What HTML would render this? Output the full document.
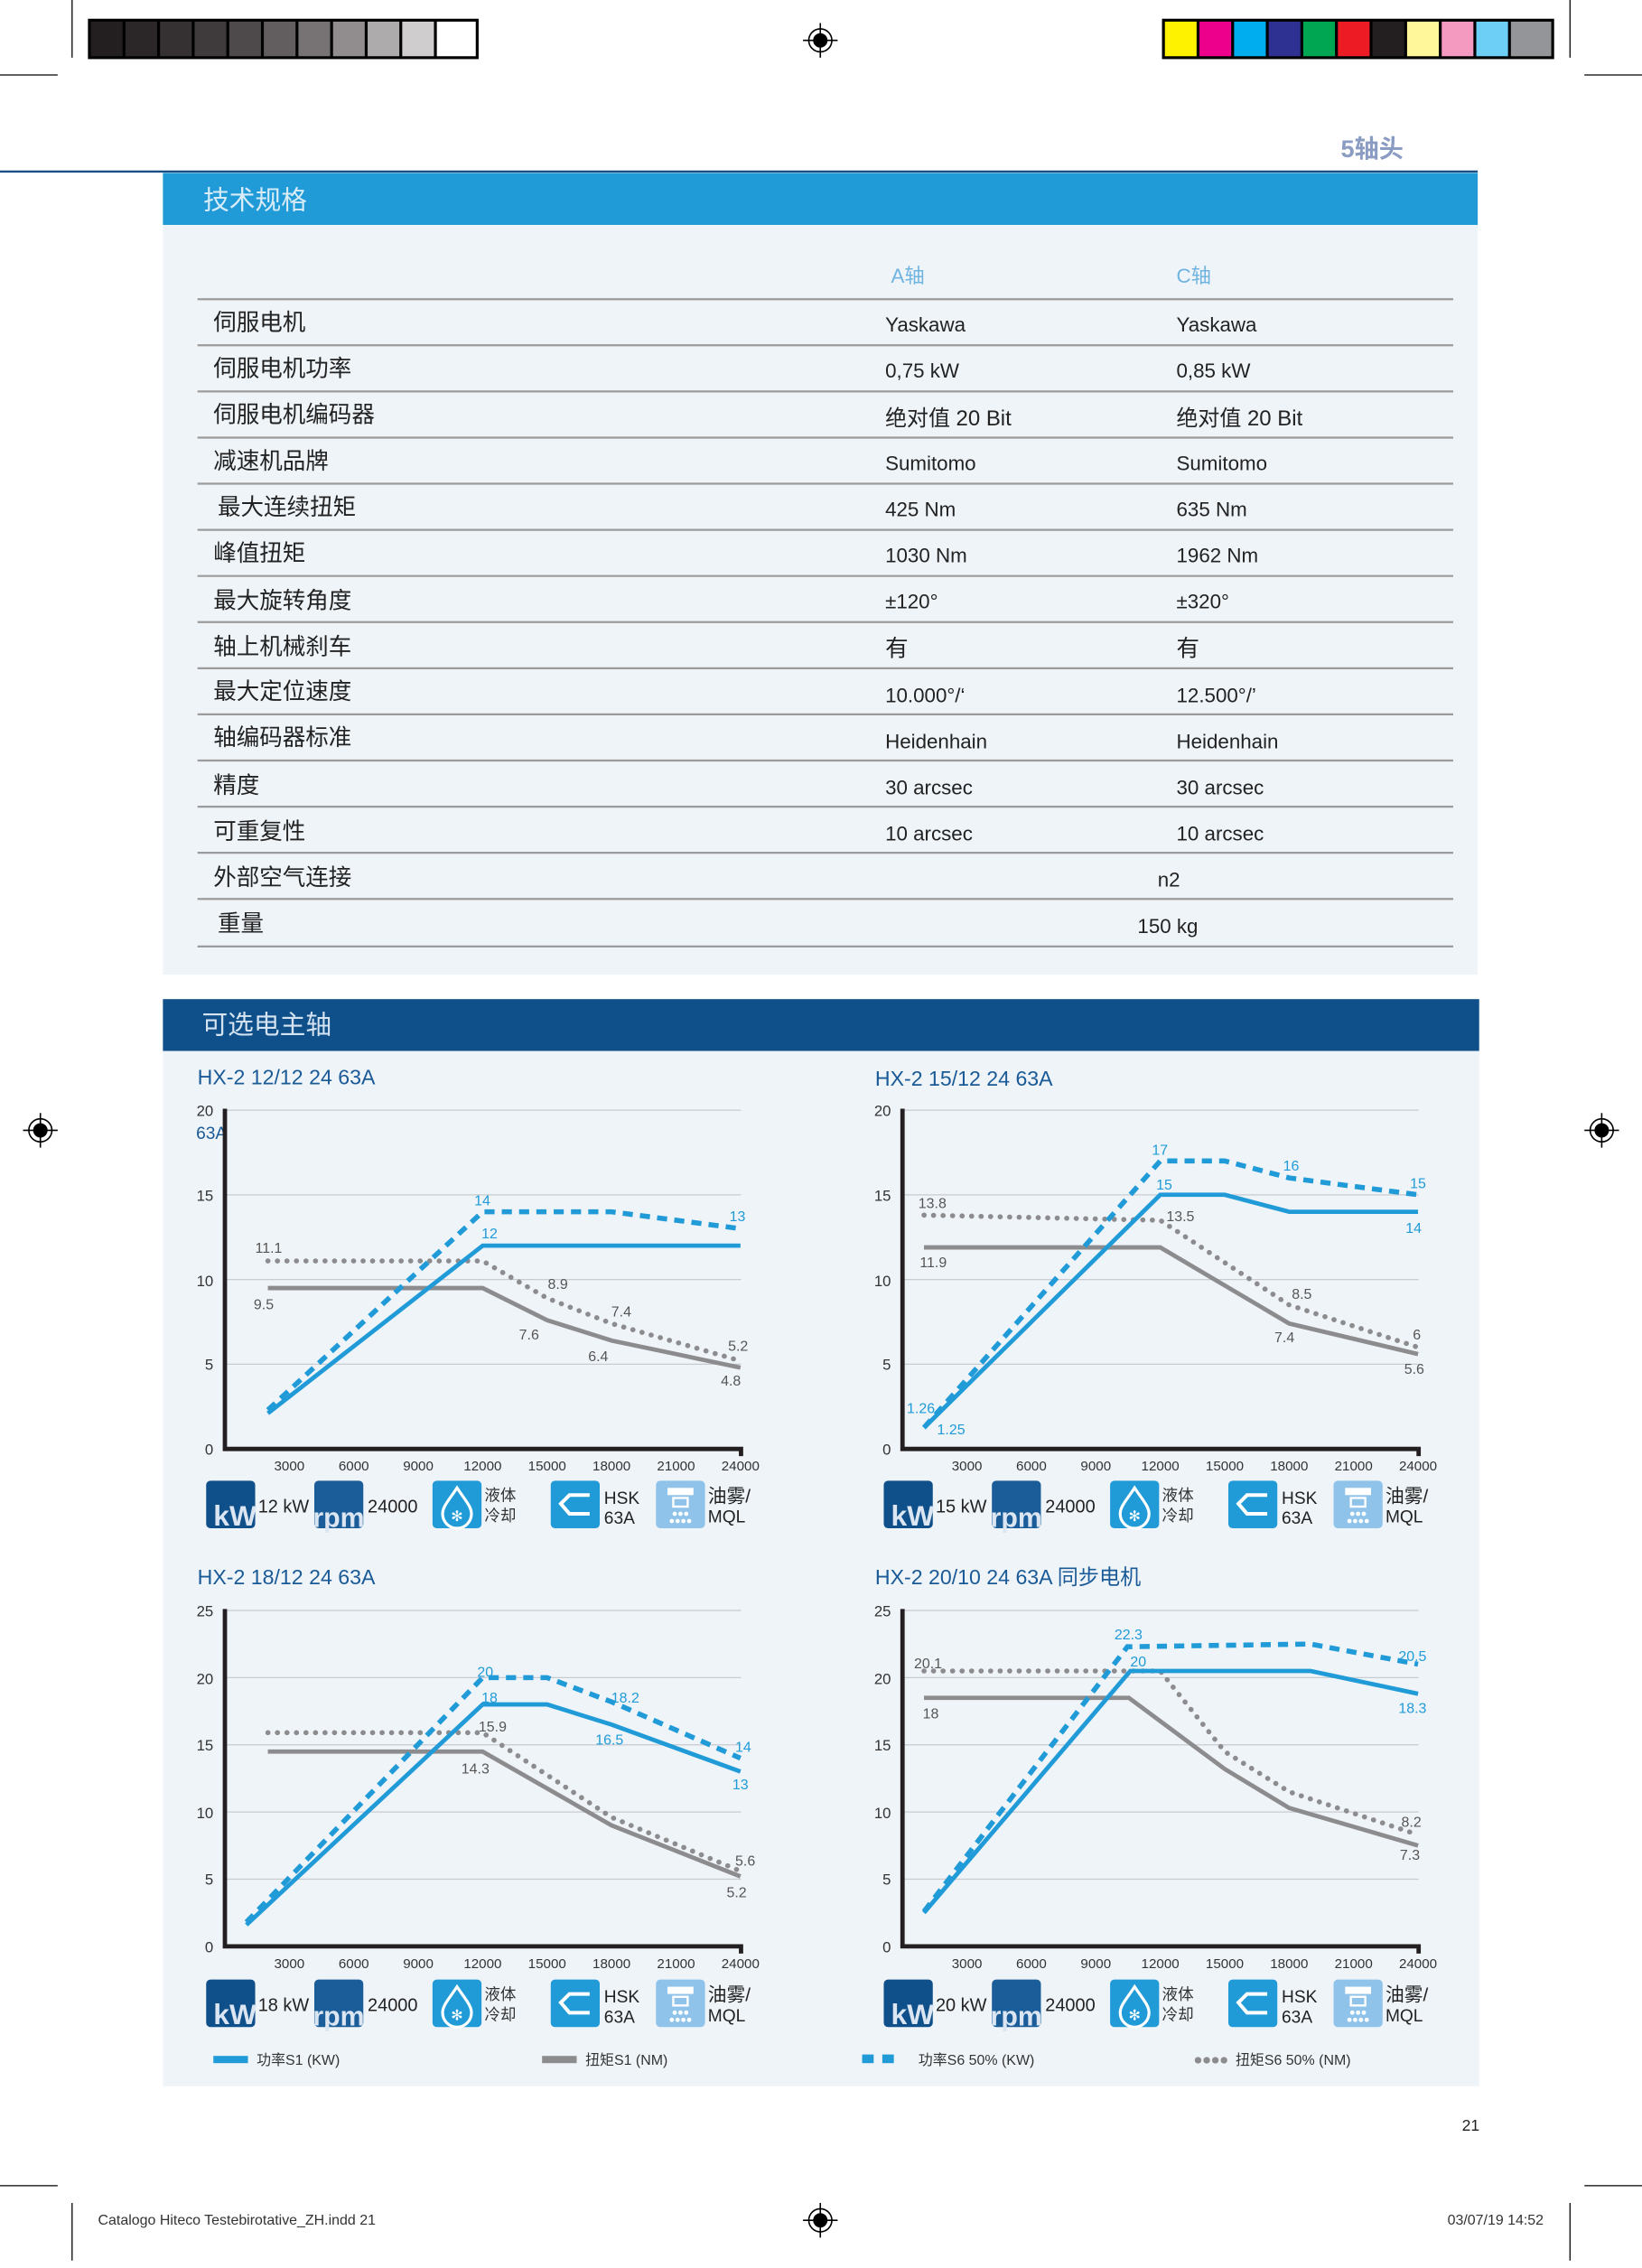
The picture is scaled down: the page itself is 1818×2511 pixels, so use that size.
<!DOCTYPE html>
<html><head><meta charset="utf-8">
<style>
html,body{margin:0;padding:0;background:#fff;}
body{width:1818px;height:2503px;overflow:hidden;position:relative;}
#p{position:absolute;left:0;top:0;width:1139px;height:1568px;transform:scale(1.59622);transform-origin:0 0;font-family:"Liberation Sans","Noto Sans CJK SC",sans-serif;}
svg text{font-family:"Liberation Sans","Noto Sans CJK SC",sans-serif;}
</style></head><body><div id="p">
<svg width="1139" height="1568" viewBox="0 0 1139 1568" xmlns="http://www.w3.org/2000/svg">
<!-- crop marks -->
<g stroke="#000" stroke-width="0.8" fill="none">
<line x1="0" y1="52" x2="40" y2="52"/><line x1="50" y1="0" x2="50" y2="40"/>
<line x1="1099" y1="52" x2="1139" y2="52"/><line x1="1089" y1="0" x2="1089" y2="40"/>
<line x1="0" y1="1516" x2="40" y2="1516"/><line x1="50" y1="1528" x2="50" y2="1568"/>
<line x1="1099" y1="1516" x2="1139" y2="1516"/><line x1="1089" y1="1528" x2="1089" y2="1568"/>
</g>
<!-- gray bar -->
<rect x="61" y="13" width="271" height="28" fill="#000"/>
<g>
<rect x="63" y="15" width="22" height="24" fill="#231f20"/><rect x="87" y="15" width="22" height="24" fill="#2b2728"/>
<rect x="111" y="15" width="22" height="24" fill="#353132"/><rect x="135" y="15" width="22" height="24" fill="#3f3b3c"/>
<rect x="159" y="15" width="22" height="24" fill="#4e4a4b"/><rect x="183" y="15" width="22" height="24" fill="#625e5f"/>
<rect x="207" y="15" width="22" height="24" fill="#777374"/><rect x="231" y="15" width="22" height="24" fill="#918d8e"/>
<rect x="255" y="15" width="22" height="24" fill="#aeabac"/><rect x="279" y="15" width="22" height="24" fill="#cfcdcd"/>
<rect x="303" y="15" width="27" height="24" fill="#fff"/>
</g>
<rect x="806" y="13" width="272" height="28" fill="#000"/>
<g>
<rect x="808" y="15" width="22" height="24" fill="#fff200"/><rect x="832" y="15" width="22" height="24" fill="#ec008c"/>
<rect x="856" y="15" width="22" height="24" fill="#00aeef"/><rect x="880" y="15" width="22" height="24" fill="#2e3192"/>
<rect x="904" y="15" width="22" height="24" fill="#00a651"/><rect x="928" y="15" width="22" height="24" fill="#ed1c24"/>
<rect x="952" y="15" width="22" height="24" fill="#231f20"/><rect x="976" y="15" width="22" height="24" fill="#fff799"/>
<rect x="1000" y="15" width="22" height="24" fill="#f49ac1"/><rect x="1024" y="15" width="22" height="24" fill="#6dcff6"/>
<rect x="1048" y="15" width="28" height="24" fill="#939598"/>
</g>
<!-- registration marks -->
<g stroke="#000" fill="none" stroke-width="1">
<g transform="translate(569,28)"><circle r="8"/><circle r="4.5" fill="#000"/><line x1="-12" y1="0" x2="12" y2="0"/><line x1="0" y1="-12" x2="0" y2="12"/></g>
<g transform="translate(28,784)"><circle r="8"/><circle r="4.5" fill="#000"/><line x1="-12" y1="0" x2="12" y2="0"/><line x1="0" y1="-12" x2="0" y2="12"/></g>
<g transform="translate(1111,784)"><circle r="8"/><circle r="4.5" fill="#000"/><line x1="-12" y1="0" x2="12" y2="0"/><line x1="0" y1="-12" x2="0" y2="12"/></g>
<g transform="translate(569,1540)"><circle r="8"/><circle r="4.5" fill="#000"/><line x1="-12" y1="0" x2="12" y2="0"/><line x1="0" y1="-12" x2="0" y2="12"/></g>
</g>
<text x="930" y="109" font-size="17" font-weight="bold" fill="#8a9cc2">5轴头</text>
<line x1="0" y1="119" x2="1025" y2="119" stroke="#1a4f86" stroke-width="1.5"/>
<!-- spec section -->
<rect x="113" y="120" width="912" height="36" fill="#209bd8"/>
<text x="141" y="145" font-size="18" fill="#d8ecf8">技术规格</text>
<rect x="113" y="156" width="912" height="520" fill="#eff4f9"/>
<text x="618" y="196" font-size="14" fill="#6fb4e0">A轴</text>
<text x="816" y="196" font-size="14" fill="#6fb4e0">C轴</text>
<g stroke="#9b9b9b" stroke-width="1.4">
<line x1="137" y1="207.5" x2="1008" y2="207.5"/><line x1="137" y1="239.5" x2="1008" y2="239.5"/>
<line x1="137" y1="271.5" x2="1008" y2="271.5"/><line x1="137" y1="303.5" x2="1008" y2="303.5"/>
<line x1="137" y1="335.5" x2="1008" y2="335.5"/><line x1="137" y1="367.5" x2="1008" y2="367.5"/>
<line x1="137" y1="399.5" x2="1008" y2="399.5"/><line x1="137" y1="431.5" x2="1008" y2="431.5"/>
<line x1="137" y1="463.5" x2="1008" y2="463.5"/><line x1="137" y1="495.5" x2="1008" y2="495.5"/>
<line x1="137" y1="527.5" x2="1008" y2="527.5"/><line x1="137" y1="559.5" x2="1008" y2="559.5"/>
<line x1="137" y1="591.5" x2="1008" y2="591.5"/><line x1="137" y1="623.5" x2="1008" y2="623.5"/>
<line x1="137" y1="656.5" x2="1008" y2="656.5"/>
</g>
<g font-size="16" fill="#222">
<text x="148" y="229">伺服电机</text><text x="148" y="261">伺服电机功率</text><text x="148" y="293">伺服电机编码器</text>
<text x="148" y="325">减速机品牌</text><text x="151" y="357">最大连续扭矩</text><text x="148" y="389">峰值扭矩</text>
<text x="148" y="422">最大旋转角度</text><text x="148" y="454">轴上机械刹车</text><text x="148" y="485">最大定位速度</text>
<text x="148" y="517">轴编码器标准</text><text x="148" y="550">精度</text><text x="148" y="582">可重复性</text>
<text x="148" y="614">外部空气连接</text><text x="151" y="646">重量</text>
</g>
<g font-size="14" fill="#222">
<text x="614" y="230">Yaskawa</text><text x="816" y="230">Yaskawa</text>
<text x="614" y="262">0,75 kW</text><text x="816" y="262">0,85 kW</text>
<text x="614" y="295" font-size="15">绝对值 20 Bit</text><text x="816" y="295" font-size="15">绝对值 20 Bit</text>
<text x="614" y="326">Sumitomo</text><text x="816" y="326">Sumitomo</text>
<text x="614" y="358">425 Nm</text><text x="816" y="358">635 Nm</text>
<text x="614" y="390">1030 Nm</text><text x="816" y="390">1962 Nm</text>
<text x="614" y="422">±120°</text><text x="816" y="422">±320°</text>
<text x="614" y="455" font-size="16">有</text><text x="816" y="455" font-size="16">有</text>
<text x="614" y="487">10.000°/‘</text><text x="816" y="487">12.500°/’</text>
<text x="614" y="519">Heidenhain</text><text x="816" y="519">Heidenhain</text>
<text x="614" y="551">30 arcsec</text><text x="816" y="551">30 arcsec</text>
<text x="614" y="583">10 arcsec</text><text x="816" y="583">10 arcsec</text>
<text x="803" y="615">n2</text><text x="789" y="647">150 kg</text>
</g>
<!-- spindle section -->
<rect x="113" y="693" width="913" height="36" fill="#0f4f8a"/>
<text x="140" y="717" font-size="18" fill="#d6e4f2">可选电主轴</text>
<rect x="113" y="729" width="913" height="718" fill="#eff4f9"/>
<g font-size="14.5" fill="#1a5a96">
<text x="137" y="752">HX-2 12/12 24 63A</text>
<text x="607" y="753">HX-2 15/12 24 63A</text>
<text x="137" y="1099">HX-2 18/12 24 63A</text>
<text x="607" y="1099">HX-2 20/10 24 63A 同步电机</text>
</g>

<!-- Chart 1 -->
<g transform="translate(156,1005)">
<g stroke="#c8cbd0" stroke-width="0.8"><line x1="0" y1="-58.75" x2="358" y2="-58.75"/><line x1="0" y1="-117.5" x2="358" y2="-117.5"/><line x1="0" y1="-176.25" x2="358" y2="-176.25"/><line x1="0" y1="-235" x2="358" y2="-235"/></g>
<g font-size="10.5" fill="#333" text-anchor="end"><text x="-8" y="4">0</text><text x="-8" y="-55">5</text><text x="-8" y="-113">10</text><text x="-8" y="-172">15</text><text x="-8" y="-231">20</text></g>
<text x="-20" y="-215" font-size="12" fill="#1a5a96">63A</text>
<path d="M0,-236 V0 H358 V5" stroke="#231f20" stroke-width="3" fill="none"/>
<g font-size="9.5" fill="#333" text-anchor="middle"><text x="44.7" y="15">3000</text><text x="89.4" y="15">6000</text><text x="134.1" y="15">9000</text><text x="178.8" y="15">12000</text><text x="223.5" y="15">15000</text><text x="268.2" y="15">18000</text><text x="312.9" y="15">21000</text><text x="357.6" y="15">24000</text></g>
<polyline points="29.8,-111.6 178.8,-111.6 223.5,-89.3 268.2,-75.2 357.6,-56.4" stroke="#8c8c8e" stroke-width="3" fill="none"/>
<polyline points="29.8,-130.4 178.8,-130.4 223.5,-104.6 268.2,-87 357.6,-61.1" stroke="#8c8c8e" stroke-width="3.5" stroke-dasharray="0.1 6.5" stroke-linecap="round" fill="none"/>
<polyline points="29.8,-24.7 178.8,-141 357.6,-141" stroke="#209bd8" stroke-width="3" fill="none"/>
<polyline points="29.8,-27 178.8,-164.5 268.2,-164.5 357.6,-152.8" stroke="#209bd8" stroke-width="3.5" stroke-dasharray="7 5" fill="none"/>
<g font-size="10" fill="#555"><text x="21" y="-136">11.1</text><text x="20" y="-97">9.5</text><text x="224" y="-111">8.9</text><text x="268" y="-92">7.4</text><text x="204" y="-76">7.6</text><text x="252" y="-61">6.4</text><text x="349" y="-68">5.2</text><text x="344" y="-44">4.8</text></g>
<g font-size="10" fill="#209bd8"><text x="173" y="-169">14</text><text x="178" y="-146">12</text><text x="350" y="-158">13</text></g>
</g>

<!-- Chart 2 -->
<g transform="translate(626,1005)">
<g stroke="#c8cbd0" stroke-width="0.8"><line x1="0" y1="-58.75" x2="358" y2="-58.75"/><line x1="0" y1="-117.5" x2="358" y2="-117.5"/><line x1="0" y1="-176.25" x2="358" y2="-176.25"/><line x1="0" y1="-235" x2="358" y2="-235"/></g>
<g font-size="10.5" fill="#333" text-anchor="end"><text x="-8" y="4">0</text><text x="-8" y="-55">5</text><text x="-8" y="-113">10</text><text x="-8" y="-172">15</text><text x="-8" y="-231">20</text></g>
<path d="M0,-236 V0 H358 V5" stroke="#231f20" stroke-width="3" fill="none"/>
<g font-size="9.5" fill="#333" text-anchor="middle"><text x="44.7" y="15">3000</text><text x="89.4" y="15">6000</text><text x="134.1" y="15">9000</text><text x="178.8" y="15">12000</text><text x="223.5" y="15">15000</text><text x="268.2" y="15">18000</text><text x="312.9" y="15">21000</text><text x="357.6" y="15">24000</text></g>
<polyline points="14.9,-139.8 178.8,-139.8 268.2,-87 357.6,-65.8" stroke="#8c8c8e" stroke-width="3" fill="none"/>
<polyline points="14.9,-162.2 178.8,-158.6 268.2,-99.9 357.6,-70.5" stroke="#8c8c8e" stroke-width="3.5" stroke-dasharray="0.1 6.5" stroke-linecap="round" fill="none"/>
<polyline points="14.9,-14.7 178.8,-176.3 223.5,-176.3 268.2,-164.5 357.6,-164.5" stroke="#209bd8" stroke-width="3" fill="none"/>
<polyline points="14.9,-14.8 178.8,-199.8 223.5,-199.8 268.2,-188 357.6,-176.3" stroke="#209bd8" stroke-width="3.5" stroke-dasharray="7 5" fill="none"/>
<g font-size="10" fill="#555"><text x="11" y="-167">13.8</text><text x="12" y="-126">11.9</text><text x="183" y="-158">13.5</text><text x="270" y="-104">8.5</text><text x="258" y="-74">7.4</text><text x="354" y="-76">6</text><text x="348" y="-52">5.6</text></g>
<g font-size="10" fill="#209bd8"><text x="173" y="-204">17</text><text x="176" y="-180">15</text><text x="264" y="-193">16</text><text x="352" y="-181">15</text><text x="349" y="-150">14</text><text x="3" y="-25">1.26</text><text x="24" y="-10">1.25</text></g>
</g>

<!-- Chart 3 -->
<g transform="translate(156,1350)">
<g stroke="#c8cbd0" stroke-width="0.8"><line x1="0" y1="-46.6" x2="358" y2="-46.6"/><line x1="0" y1="-93.2" x2="358" y2="-93.2"/><line x1="0" y1="-139.8" x2="358" y2="-139.8"/><line x1="0" y1="-186.4" x2="358" y2="-186.4"/><line x1="0" y1="-233" x2="358" y2="-233"/></g>
<g font-size="10.5" fill="#333" text-anchor="end"><text x="-8" y="4">0</text><text x="-8" y="-43">5</text><text x="-8" y="-89">10</text><text x="-8" y="-136">15</text><text x="-8" y="-182">20</text><text x="-8" y="-229">25</text></g>
<path d="M0,-234 V0 H358 V5" stroke="#231f20" stroke-width="3" fill="none"/>
<g font-size="9.5" fill="#333" text-anchor="middle"><text x="44.7" y="15">3000</text><text x="89.4" y="15">6000</text><text x="134.1" y="15">9000</text><text x="178.8" y="15">12000</text><text x="223.5" y="15">15000</text><text x="268.2" y="15">18000</text><text x="312.9" y="15">21000</text><text x="357.6" y="15">24000</text></g>
<polyline points="29.8,-135.1 178.8,-135.1 268.2,-83.9 357.6,-48.5" stroke="#8c8c8e" stroke-width="3" fill="none"/>
<polyline points="29.8,-148.2 178.8,-148.2 268.2,-89.5 357.6,-52.2" stroke="#8c8c8e" stroke-width="3.5" stroke-dasharray="0.1 6.5" stroke-linecap="round" fill="none"/>
<polyline points="14.9,-14.9 178.8,-167.8 223.5,-167.8 268.2,-153.8 357.6,-121.2" stroke="#209bd8" stroke-width="3" fill="none"/>
<polyline points="14.9,-16.8 178.8,-186.4 223.5,-186.4 268.2,-169.6 357.6,-130.5" stroke="#209bd8" stroke-width="3.5" stroke-dasharray="7 5" fill="none"/>
<g font-size="10" fill="#555"><text x="176" y="-149">15.9</text><text x="164" y="-120">14.3</text><text x="354" y="-56">5.6</text><text x="348" y="-34">5.2</text></g>
<g font-size="10" fill="#209bd8"><text x="175" y="-187">20</text><text x="178" y="-169">18</text><text x="268" y="-169">18.2</text><text x="257" y="-140">16.5</text><text x="354" y="-135">14</text><text x="352" y="-109">13</text></g>
</g>

<!-- Chart 4 -->
<g transform="translate(626,1350)">
<g stroke="#c8cbd0" stroke-width="0.8"><line x1="0" y1="-46.6" x2="358" y2="-46.6"/><line x1="0" y1="-93.2" x2="358" y2="-93.2"/><line x1="0" y1="-139.8" x2="358" y2="-139.8"/><line x1="0" y1="-186.4" x2="358" y2="-186.4"/><line x1="0" y1="-233" x2="358" y2="-233"/></g>
<g font-size="10.5" fill="#333" text-anchor="end"><text x="-8" y="4">0</text><text x="-8" y="-43">5</text><text x="-8" y="-89">10</text><text x="-8" y="-136">15</text><text x="-8" y="-182">20</text><text x="-8" y="-229">25</text></g>
<path d="M0,-234 V0 H358 V5" stroke="#231f20" stroke-width="3" fill="none"/>
<g font-size="9.5" fill="#333" text-anchor="middle"><text x="44.7" y="15">3000</text><text x="89.4" y="15">6000</text><text x="134.1" y="15">9000</text><text x="178.8" y="15">12000</text><text x="223.5" y="15">15000</text><text x="268.2" y="15">18000</text><text x="312.9" y="15">21000</text><text x="357.6" y="15">24000</text></g>
<polyline points="14.9,-172.4 157,-172.4 223.5,-123 268.2,-96 357.6,-69.9" stroke="#8c8c8e" stroke-width="3" fill="none"/>
<polyline points="14.9,-191 178.8,-191 223.5,-135.1 268.2,-107.2 357.6,-77.4" stroke="#8c8c8e" stroke-width="3.5" stroke-dasharray="0.1 6.5" stroke-linecap="round" fill="none"/>
<polyline points="14.9,-23.3 158,-191 283,-191 357.6,-175.2" stroke="#209bd8" stroke-width="3" fill="none"/>
<polyline points="14.9,-24.2 156,-207.8 283,-209.7 357.6,-195.7" stroke="#209bd8" stroke-width="3.5" stroke-dasharray="7 5" fill="none"/>
<g font-size="10" fill="#555"><text x="8" y="-193">20.1</text><text x="14" y="-158">18</text><text x="346" y="-83">8.2</text><text x="345" y="-60">7.3</text></g>
<g font-size="10" fill="#209bd8"><text x="147" y="-213">22.3</text><text x="158" y="-194">20</text><text x="344" y="-198">20.5</text><text x="344" y="-162">18.3</text></g>
</g>

<!-- icon rows -->
<defs>
<g id="icons">
<rect x="0" y="0" width="34" height="33" rx="3" fill="#0f4f8a"/><text x="5" y="31" font-size="20" font-weight="bold" fill="#dbe6f2">kW</text>
<rect x="75" y="0" width="34" height="33" rx="3" fill="#1a5d99"/><text x="74" y="32" font-size="19" font-weight="bold" fill="#dbe6f2">rpm</text>
<text x="112" y="22" font-size="12.5" fill="#222">24000</text>
<rect x="157" y="0" width="34" height="33" rx="3" fill="#209bd8"/><path d="M174,5 C168,14 164,18 164,23 A10,10 0 0 0 184,23 C184,18 180,14 174,5 Z" fill="none" stroke="#fff" stroke-width="2"/><text x="174" y="28" font-size="10" fill="#fff" text-anchor="middle">✻</text>
<text x="193" y="14" font-size="11" fill="#333">液体</text><text x="193" y="28" font-size="11" fill="#333">冷却</text>
<rect x="239" y="0" width="34" height="33" rx="3" fill="#209bd8"/><path d="M266,10 H252 L246,16 L252,23 H266" fill="none" stroke="#fff" stroke-width="2.5"/>
<text x="276" y="16" font-size="12" fill="#222">HSK</text><text x="276" y="30" font-size="12" fill="#222">63A</text>
<rect x="312" y="0" width="34" height="33" rx="3" fill="#8fc3ea"/><rect x="320" y="5" width="18" height="5" fill="#fff"/><rect x="324" y="12" width="10" height="6" fill="none" stroke="#fff" stroke-width="1.5"/><g fill="#fff"><circle cx="325" cy="23" r="1.5"/><circle cx="329" cy="23" r="1.5"/><circle cx="333" cy="23" r="1.5"/><circle cx="323" cy="28" r="1.5"/><circle cx="327" cy="28" r="1.5"/><circle cx="331" cy="28" r="1.5"/><circle cx="335" cy="28" r="1.5"/></g>
<text x="348" y="15" font-size="13" fill="#222">油雾/</text><text x="348" y="29" font-size="12" fill="#222">MQL</text>
</g>
</defs>
<use href="#icons" x="143" y="1027"/><text x="179" y="1049" font-size="12.5" fill="#222">12 kW</text>
<use href="#icons" x="613" y="1027"/><text x="649" y="1049" font-size="12.5" fill="#222">15 kW</text>
<use href="#icons" x="143" y="1373"/><text x="179" y="1395" font-size="12.5" fill="#222">18 kW</text>
<use href="#icons" x="613" y="1373"/><text x="649" y="1395" font-size="12.5" fill="#222">20 kW</text>

<!-- legend -->
<rect x="148" y="1426" width="24" height="5" fill="#209bd8"/><text x="178" y="1432" font-size="10" fill="#333">功率S1 (KW)</text>
<rect x="376" y="1426" width="24" height="5" fill="#8c8c8e"/><text x="406" y="1432" font-size="10" fill="#333">扭矩S1 (NM)</text>
<rect x="598" y="1425" width="8" height="6" fill="#209bd8"/><rect x="612" y="1425" width="8" height="6" fill="#209bd8"/><text x="637" y="1432" font-size="10" fill="#333">功率S6 50% (KW)</text>
<g fill="#8c8c8e"><circle cx="831" cy="1429" r="2.3"/><circle cx="837" cy="1429" r="2.3"/><circle cx="843" cy="1429" r="2.3"/><circle cx="849" cy="1429" r="2.3"/></g><text x="857" y="1432" font-size="10" fill="#333">扭矩S6 50% (NM)</text>

<text x="1014" y="1478" font-size="11" fill="#222">21</text>
<text x="68" y="1543" font-size="10" fill="#333">Catalogo Hiteco Testebirotative_ZH.indd   21</text>
<text x="1004" y="1543" font-size="10" fill="#333">03/07/19   14:52</text>
</svg>
</div></body></html>
